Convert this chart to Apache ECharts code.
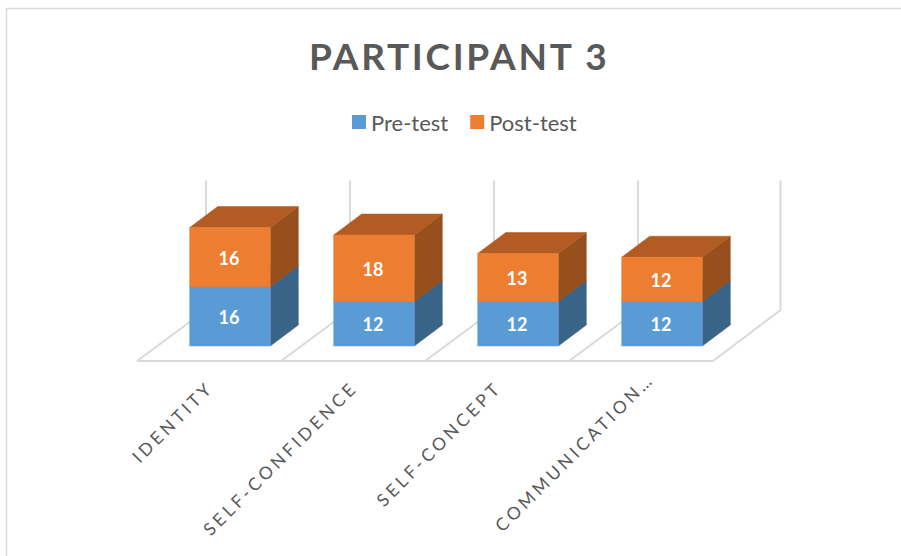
<!DOCTYPE html>
<html>
<head>
<meta charset="utf-8">
<style>
html,body{margin:0;padding:0;background:#fff;overflow:hidden}
#c{width:901px;height:556px}
svg text[style*="37px"]{letter-spacing:2.7px}
svg text[style*="17.5px"]{letter-spacing:3.5px}
</style>
<script src="https://cdn.jsdelivr.net/npm/echarts@6/dist/echarts.min.js"></script>
</head>
<body>
<div id="c"></div>
<script>
const categories = ['IDENTITY', 'SELF-CONFIDENCE', 'SELF-CONCEPT', 'COMMUNICATION…'];
const preTest = [16, 12, 12, 12];
const postTest = [16, 18, 13, 12];
const axisMax = 35;

const chart = echarts.init(document.getElementById('c'), null, {renderer: 'svg'});

const poly = (points, fill, z2) => ({type: 'polygon', shape: {points}, style: {fill, stroke: fill, lineWidth: 0.5}, z2});
const seg = (a, b) => ({type: 'line', shape: {x1: a[0], y1: a[1], x2: b[0], y2: b[1]}, style: {stroke: '#D9D9D9', lineWidth: 2, fill: null}});

function floorItem(params, api) {
  const i = api.value(0);
  const band = api.size([1, 0])[0];
  const c = api.coord([i, 0]);
  const top = api.coord([i, axisMax])[1];
  const left = c[0] - band / 2, right = c[0] + band / 2, base = c[1];
  const fx = -21, fy = 15, bx = 48, by = -36;
  const kids = [
    seg([left + fx, base + fy], [right + fx, base + fy]),
    seg([left + fx, base + fy], [left + bx, base + by]),
    seg([left + bx, base + by], [left + bx, top + by])
  ];
  if (i === categories.length - 1) {
    kids.push(seg([right + fx, base + fy], [right + bx - 1.5, base + by]));
    kids.push(seg([right + bx - 1.5, base + by], [right + bx - 1.5, top + by]));
  }
  return {type: 'group', children: kids};
}

function boxItem(front, top, side, under) {
  return function (params, api) {
    const i = api.value(0);
    const v = api.value(1);
    const start = under ? under[params.dataIndex] : 0;
    const p0 = api.coord([i, start]);
    const p1 = api.coord([i, start + v]);
    const w = api.size([1, 0])[0] * 0.56;
    const dx = 28, dy = -21;
    const l = p0[0] - w / 2, r = p0[0] + w / 2, yb = p0[1], yt = p1[1];
    return {
      type: 'group',
      children: [
        poly([[r, yb], [r + dx, yb + dy], [r + dx, yt + dy], [r, yt]], side),
        poly([[l, yt], [r, yt], [r + dx, yt + dy], [l + dx, yt + dy]], top),
        poly([[l, yb], [r, yb], [r, yt], [l, yt]], front),
        {type: 'text', x: p0[0] - 1, y: (yb + yt) / 2 + 0.5, z2: 10,
          style: {text: String(v), fill: '#fff', fontFamily: 'Lato', fontWeight: 'bold', fontSize: 18, align: 'center', verticalAlign: 'middle'}}
      ]
    };
  };
}

const option = {
  backgroundColor: '#fff',
  animation: false,
  title: {
    text: 'PARTICIPANT 3', left: 304, top: 32,
    textStyle: {fontFamily: 'Lato', fontSize: 37, fontWeight: 'bold', color: '#595959'}
  },
  legend: {
    data: ['Pre-test', 'Post-test'], top: 106, left: 347, icon: 'rect',
    itemWidth: 14, itemHeight: 14, itemGap: 22,
    textStyle: {fontFamily: 'Lato', fontSize: 22, color: '#595959'}
  },
  grid: {left: 158, top: 216.5, width: 576, height: 129.5},
  xAxis: {
    type: 'category',
    data: categories.map((c, i) => i === categories.length - 1 ? {value: c, textStyle: {padding: [0, 16, 0, 0]}} : c),
    axisLine: {show: false}, axisTick: {show: false},
    axisLabel: {rotate: 45, interval: 0, margin: 18.5, padding: [0, 28, 0, 0], fontFamily: 'Lato', fontSize: 17.5, color: '#595959'}
  },
  yAxis: {type: 'value', min: 0, max: axisMax, interval: 5, show: false, splitLine: {show: false}},
  series: [
    {name: 'floor', type: 'custom', silent: true, z: 1, renderItem: floorItem, data: categories.map((c, i) => [i, 0])},
    {name: 'Pre-test', type: 'custom', z: 2, itemStyle: {color: '#5B9BD5'},
      renderItem: boxItem('#5B9BD5', '#3D6D96', '#396387', null),
      data: preTest.map((v, i) => [i, v])},
    {name: 'Post-test', type: 'custom', z: 3, itemStyle: {color: '#ED7D31'},
      renderItem: boxItem('#ED7D31', '#B25B22', '#974F1C', preTest),
      data: postTest.map((v, i) => [i, v])}
  ],
  graphic: [
    {type: 'line', silent: true, shape: {x1: 6, y1: 8.5, x2: 901, y2: 8.5}, style: {stroke: '#D9D9D9', lineWidth: 1.5}},
    {type: 'line', silent: true, shape: {x1: 6.5, y1: 8, x2: 6.5, y2: 556}, style: {stroke: '#D9D9D9', lineWidth: 1.5}}
  ]
};
chart.setOption(option);
</script>
</body>
</html>
